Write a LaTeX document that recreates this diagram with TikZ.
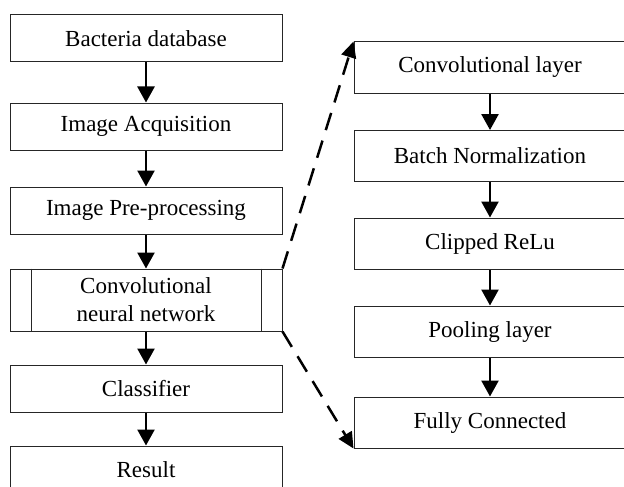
\documentclass[tikz,border=0pt]{standalone}
\usepackage{fontspec}
\setmainfont{Liberation Serif}
\usetikzlibrary{arrows.meta,calc}
\begin{document}
\begin{tikzpicture}[x=1pt,y=-1pt,
  box/.style={draw=black!85,line width=1pt,rectangle,minimum width=272pt,inner sep=0pt,
    align=center,font=\fontsize{23}{28}\selectfont},
  lbox/.style={box,minimum height=47pt},
  rbox/.style={box,minimum height=51pt,minimum width=280pt},
  arr/.style={line width=2.5pt,-{Triangle[length=16pt,width=17pt]}},
  darr/.style={line width=2.5pt,dash pattern=on 18pt off 11pt,-{Triangle[length=16pt,width=15pt]}}]
\useasboundingbox (0,0) rectangle (624,487);
\clip (0,0) rectangle (624,487);
% left column
\node[lbox] (bac) at (146,38.5) {Bacteria database};
\node[lbox] (acq) at (146,126.5) {Image Acquisition};
\node[lbox] (pre) at (146,210.5) {Image Pre-processing};
\node[box,minimum height=62pt] (cnn) at (146,300) {Convolutional\\neural network};
\node[lbox] (cls) at (146,388.5) {Classifier};
\node[lbox] (res) at (146,469.5) {Result};
\draw[draw=black!85,line width=1pt] ($(cnn.north west)+(22,0)$) -- ($(cnn.south west)+(22,0)$);
\draw[draw=black!85,line width=1pt] ($(cnn.north east)+(-21,0)$) -- ($(cnn.south east)+(-21,0)$);
% right column (right edges run past the picture's border)
\node[rbox] (conv) at (494,67.5) {\hspace*{-8pt}Convolutional layer};
\node[rbox] (bn) at (494,156) {\hspace*{-8pt}Batch Normalization};
\node[rbox] (relu) at (494,243.5) {\hspace*{-8pt}Clipped ReLu};
\node[rbox] (pool) at (494,331.5) {\hspace*{-8pt}Pooling layer};
\node[rbox] (fc) at (494,422.5) {\hspace*{-8pt}Fully Connected};
% arrows
\draw[arr] ($(conv.south)+(-4,0)$) -- ($(bn.north)+(-4,0)$);
\draw[arr] ($(bn.south)+(-4,0)$) -- ($(relu.north)+(-4,0)$);
\draw[arr] ($(relu.south)+(-4,0)$) -- ($(pool.north)+(-4,0)$);
\draw[arr] ($(pool.south)+(-4,0)$) -- ($(fc.north)+(-4,0)$);
\draw[arr] (bac) -- (acq);
\draw[arr] (acq) -- (pre);
\draw[arr] (pre) -- (cnn);
\draw[arr] (cnn) -- (cls);
\draw[arr] (cls) -- (res);
\draw[darr] (cnn.north east) -- (conv.north west);
\draw[darr] (cnn.south east) -- (fc.south west);
\end{tikzpicture}
\end{document}
